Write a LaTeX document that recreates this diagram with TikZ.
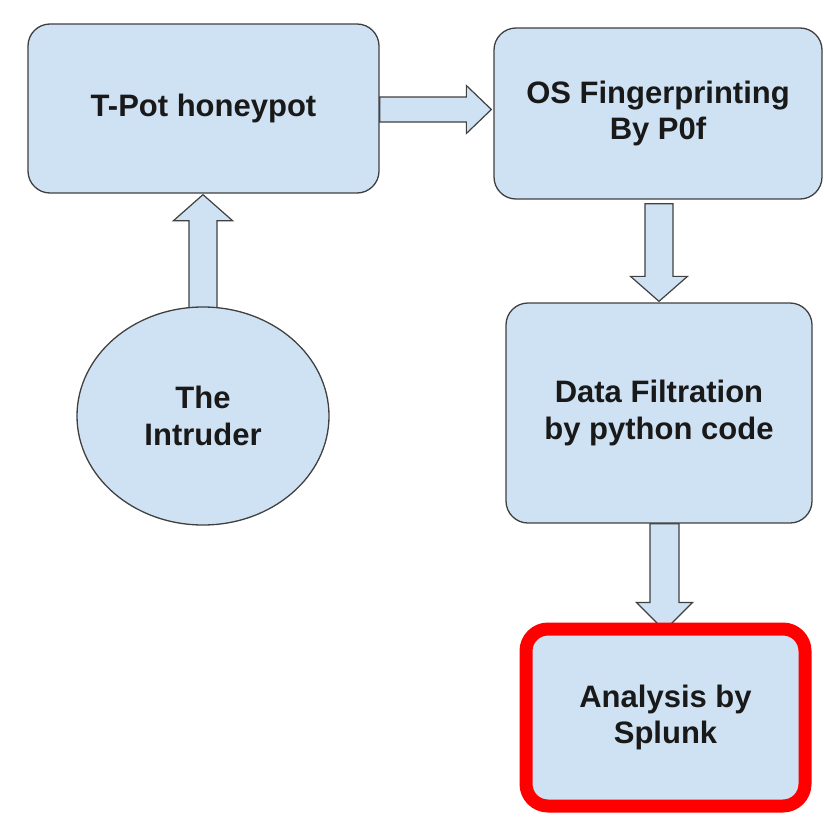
\documentclass[tikz,border=0pt]{standalone}
\usepackage{fontspec}
\setmainfont{Liberation Sans}
\usetikzlibrary{calc,backgrounds,shapes.geometric}
\definecolor{boxfill}{HTML}{CFE2F3}
\definecolor{boxline}{HTML}{404040}
\definecolor{hired}{HTML}{FF0000}
\begin{document}
\begin{tikzpicture}[x=1pt,y=-1pt,
  lbl/.style={font=\fontsize{31}{36.5}\selectfont\bfseries, align=center, text=black!90},
  stepbox/.style={lbl, draw=boxline, line width=1.3pt, fill=boxfill, rounded corners=22pt,
    inner sep=0pt, rectangle},
  hotbox/.style={stepbox, draw=hired, line width=13pt},
  actor/.style={lbl, draw=boxline, line width=1.3pt, fill=boxfill, ellipse, inner sep=0pt},
  blockarr/.style={draw=boxline, line width=1.2pt, fill=boxfill, line join=miter}
]
\useasboundingbox (0,0) rectangle (824,835);

\node[stepbox, minimum width=351pt, minimum height=169pt] (tpot) at (203.5,108.5) {T-Pot honeypot};
\node[stepbox, minimum width=328pt, minimum height=171pt] (os) at (658,113.5) {OS Fingerprinting\\By P0f};
\node[stepbox, minimum width=306pt, minimum height=220pt] (data) at (659,413) {Data Filtration\\by python code};
\node[hotbox, minimum width=279pt, minimum height=177pt] (splunk) at (665.5,717.5) {Analysis by\\Splunk};
\node[actor, minimum width=252pt, minimum height=218pt] (intr) at (203,416) {The\\Intruder};

\begin{scope}[on background layer]
\fill[white] (0,0) rectangle (824,835);
% right arrow: tpot -> os
\coordinate (rs) at ($(tpot.east)+(0,1)$);
\coordinate (rt) at ($(os.west |- rs)+(-2,0)$);
\draw[blockarr] ($(rs)+(0,-12.5)$) -- ($(rt)+(-25,-12.5)$) -- ($(rt)+(-25,-24)$) -- (rt)
  -- ($(rt)+(-25,24)$) -- ($(rt)+(-25,12.5)$) -- ($(rs)+(0,12.5)$) -- cycle;
% up arrow: intruder -> tpot
\coordinate (us) at ($(intr.north)+(0,2)$);
\coordinate (ut) at ($(tpot.south -| us)+(0,1)$);
\draw[blockarr] ($(us)+(-14,0)$) -- ($(ut)+(-14,26)$) -- ($(ut)+(-29.5,26)$) -- (ut)
  -- ($(ut)+(29.5,26)$) -- ($(ut)+(14,26)$) -- ($(us)+(14,0)$) -- cycle;
% down arrow: os -> data
\coordinate (ds) at ($(os.south)+(1,4)$);
\coordinate (dt) at ($(data.north -| ds)+(0,-1)$);
\draw[blockarr] ($(ds)+(-14,0)$) -- ($(dt)+(-14,-25)$) -- ($(dt)+(-28.5,-25)$) -- (dt)
  -- ($(dt)+(28.5,-25)$) -- ($(dt)+(14,-25)$) -- ($(ds)+(14,0)$) -- cycle;
% down arrow: data -> splunk
\coordinate (es) at ($(data.south)+(5.5,0)$);
\coordinate (et) at ($(splunk.north -| es)+(0,8)$);
\draw[blockarr] ($(es)+(-14.5,0)$) -- ($(et)+(-14.5,-28)$) -- ($(et)+(-28,-28)$) -- (et)
  -- ($(et)+(28,-28)$) -- ($(et)+(14.5,-28)$) -- ($(es)+(14.5,0)$) -- cycle;
\end{scope}
\end{tikzpicture}
\end{document}
